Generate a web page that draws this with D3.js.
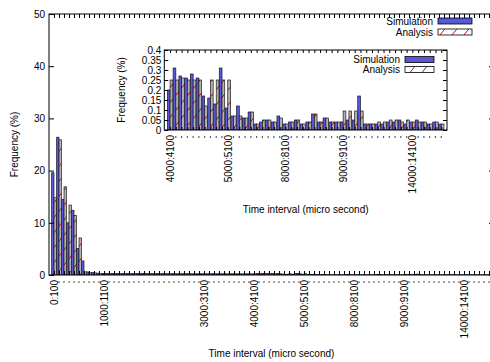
<!DOCTYPE html>
<html><head><meta charset="utf-8">
<script src="https://cdn.jsdelivr.net/npm/d3@7"></script>
<style>body{margin:0;background:#fff}svg{display:block;font-family:"Liberation Sans",Arial,sans-serif}</style>
</head><body><svg id="c" width="490" height="362"></svg>
<script>
// ---------- data ----------
const labelIndex = [0, 10, 30, 40, 50, 60, 70, 82];
const labelText = ["0:100", "1000:1100", "3000:3100", "4000:4100", "5000:5100", "8000:8100", "9000:9100", "14000:14100"];
const insetLabelIndex = [40, 50, 60, 70, 82];
const simulation = [
  19.6, 26.4, 14.5, 10.0, 12.4, 5.1, 2.7, 0.6, 0.45, 0.35,
  0.3, 0.28, 0.3, 0.27, 0.26, 0.28, 0.25, 0.27, 0.26, 0.25,
  0.24, 0.26, 0.25, 0.24, 0.25, 0.23, 0.24, 0.25, 0.22, 0.24,
  0.23, 0.22, 0.24, 0.23, 0.22, 0.21, 0.23, 0.22, 0.21, 0.22,
  0.20, 0.31, 0.27, 0.26, 0.28, 0.26, 0.17, 0.16, 0.13, 0.31,
  0.11, 0.07, 0.12, 0.06, 0.09, 0.03, 0.04, 0.05, 0.04, 0.07,
  0.03, 0.04, 0.05, 0.03, 0.04, 0.08, 0.04, 0.06, 0.04, 0.04,
  0.04, 0.05, 0.05, 0.17, 0.03, 0.03, 0.03, 0.03, 0.04, 0.04,
  0.05, 0.03, 0.04, 0.05, 0.04, 0.03, 0.04, 0.03
];
const analysis = [
  14.8, 25.9, 16.9, 13.4, 11.4, 7.1, 0.6, 0.5, 0.4, 0.3,
  0.3, 0.29, 0.29, 0.28, 0.28, 0.27, 0.27, 0.27, 0.26, 0.26,
  0.26, 0.26, 0.25, 0.25, 0.25, 0.25, 0.25, 0.25, 0.25, 0.25,
  0.25, 0.25, 0.25, 0.25, 0.25, 0.25, 0.25, 0.25, 0.25, 0.25,
  0.25, 0.25, 0.26, 0.25, 0.25, 0.25, 0.12, 0.25, 0.25, 0.25,
  0.25, 0.07, 0.07, 0.06, 0.09, 0.03, 0.05, 0.05, 0.04, 0.06,
  0.03, 0.04, 0.05, 0.03, 0.04, 0.08, 0.04, 0.06, 0.04, 0.04,
  0.095, 0.095, 0.095, 0.095, 0.03, 0.03, 0.04, 0.04, 0.05, 0.05,
  0.04, 0.05, 0.04, 0.04, 0.04, 0.03, 0.04, 0.03
];
const seriesNames = ["Simulation", "Analysis"];
const mainYTicks = [0, 10, 20, 30, 40, 50];
const insetYTicks = [0, 0.05, 0.1, 0.15, 0.2, 0.25, 0.3, 0.35, 0.4];
const insetFirst = 40;

// ---------- setup ----------
const svg = d3.select("#c");
const N = simulation.length;
const idx = d3.range(N);
const SIM_FILL = "#5858d8", SIM_STROKE = "#141438";
const defs = svg.append("defs");
const pat = defs.append("pattern").attr("id", "hatch").attr("patternUnits", "userSpaceOnUse")
  .attr("width", 12).attr("height", 15);
pat.append("rect").attr("width", 12).attr("height", 15).attr("fill", "#b2b2b2");
pat.append("line").attr("x1", 0).attr("y1", 15).attr("x2", 12).attr("y2", 0).attr("stroke", "#c00").attr("stroke-width", 1);
const patL = defs.append("pattern").attr("id", "hatchL").attr("patternUnits", "userSpaceOnUse")
  .attr("width", 12).attr("height", 15);
patL.append("rect").attr("width", 12).attr("height", 15).attr("fill", "#fff");
patL.append("line").attr("x1", 0).attr("y1", 15).attr("x2", 12).attr("y2", 0).attr("stroke", "#d00").attr("stroke-width", 1);

function panel(g, opt) {
  const x = d3.scaleLinear().domain(opt.xdom).range(opt.xr);
  const y = d3.scaleLinear().domain(opt.ydom).range(opt.yr);
  const cats = idx.filter(i => i >= opt.first);
  const hw = 0.47;
  const clipId = opt.id + "clip";
  g.append("clipPath").attr("id", clipId).append("rect")
    .attr("x", opt.xr[0]).attr("y", opt.yr[1]).attr("width", opt.xr[1] - opt.xr[0]).attr("height", opt.yr[0] - opt.yr[1]);
  if (opt.bg) g.append("rect").attr("x", opt.xr[0]).attr("y", opt.yr[1])
    .attr("width", opt.xr[1] - opt.xr[0]).attr("height", opt.yr[0] - opt.yr[1]).attr("fill", "#fff");
  const bars = g.append("g").attr("clip-path", `url(#${clipId})`);
  bars.selectAll(".s").data(cats).join("rect")
    .attr("x", i => x(i - hw)).attr("width", i => x(i) - x(i - hw))
    .attr("y", i => y(simulation[i])).attr("height", i => y(0) - y(simulation[i]))
    .attr("fill", SIM_FILL).attr("stroke", SIM_STROKE).attr("stroke-width", 0.7);
  bars.selectAll(".a").data(cats).join("rect")
    .attr("x", i => x(i)).attr("width", i => x(i + hw) - x(i))
    .attr("y", i => y(analysis[i])).attr("height", i => y(0) - y(analysis[i]))
    .attr("fill", "url(#hatch)").attr("stroke", "#1a1a1a").attr("stroke-width", 0.7);

  const tickStyle = s => s.call(a => a.select(".domain").remove())
    .call(a => a.selectAll("line").attr("stroke", "#000"))
    .call(a => a.selectAll("text").attr("font-size", 10).attr("fill", "#000").attr("font-family", null));
  g.append("g").attr("transform", `translate(${opt.xr[0]},0)`)
    .call(d3.axisLeft(y).tickValues(opt.yticks).tickSize(-opt.ytl).tickPadding(opt.ypad).tickFormat(opt.yfmt))
    .call(tickStyle);
  g.append("g").attr("transform", `translate(${opt.xr[1]},0)`)
    .call(d3.axisRight(y).tickValues(opt.yticks).tickSize(-opt.ytl).tickFormat(""))
    .call(tickStyle);
  g.append("g").attr("transform", `translate(0,${opt.yr[0]})`)
    .call(d3.axisBottom(x).tickValues(cats).tickSize(-opt.xtl).tickFormat(""))
    .call(tickStyle);
  g.append("g").attr("transform", `translate(0,${opt.yr[1]})`)
    .call(d3.axisTop(x).tickValues(cats).tickSize(-opt.xtl).tickFormat(""))
    .call(tickStyle);
  const ly = opt.yr[0] + 8;
  cats.filter(i => !opt.labels.includes(i)).forEach(i => {
    g.append("circle").attr("cx", x(i)).attr("cy", ly - 1).attr("r", 0.7).attr("fill", "#000");
  });
  opt.labels.forEach(i => {
    g.append("text").attr("transform", `translate(${x(i) + 0.5},${ly - 3}) rotate(-90)`)
      .attr("text-anchor", "end").attr("dy", "0.35em").attr("font-size", 10)
      .text(labelText[labelIndex.indexOf(i)]);
  });
  g.append("rect").attr("x", opt.xr[0]).attr("y", opt.yr[1])
    .attr("width", opt.xr[1] - opt.xr[0]).attr("height", opt.yr[0] - opt.yr[1])
    .attr("fill", "none").attr("stroke", "#000").attr("stroke-width", 1);
  g.append("text").attr("x", (opt.xr[0] + opt.xr[1]) / 2).attr("y", opt.xtitleY)
    .attr("text-anchor", "middle").attr("font-size", 10).text("Time interval (micro second)");
  g.append("text").attr("transform", `translate(${opt.ytitleX},${(opt.yr[0] + opt.yr[1]) / 2}) rotate(-90)`)
    .attr("text-anchor", "middle").attr("dy", "0.35em").attr("font-size", 10).text("Frequency (%)");
  const lg = g.append("g");
  seriesNames.forEach((nm, k) => {
    const cy = opt.legY + k * opt.legDy;
    lg.append("text").attr("x", opt.legX - 5).attr("y", cy).attr("dy", "0.35em")
      .attr("text-anchor", "end").attr("font-size", 10).text(nm);
    lg.append("rect").attr("x", opt.legX).attr("y", cy - 3).attr("width", opt.legW).attr("height", 6)
      .attr("fill", k === 0 ? SIM_FILL : "url(#hatchL)").attr("stroke", "#000").attr("stroke-width", 0.8);
  });
}

panel(svg.append("g"), {
  id: "main", xdom: [-1, 88], xr: [49, 494], ydom: [0, 50], yr: [275, 14], first: 0,
  yticks: mainYTicks, yfmt: d3.format("d"), ytl: 5, ypad: 4, xtl: 4, labels: labelIndex,
  xtitleY: 357, ytitleX: 14, legX: 438, legY: 21, legDy: 11, legW: 34
});
panel(svg.append("g"), {
  id: "inset", xdom: [39, 88], xr: [164.3, 447], ydom: [0, 0.4], yr: [130, 50], first: insetFirst, bg: true,
  yticks: insetYTicks, yfmt: d => String(+d.toFixed(2)), ytl: 4, ypad: 3, xtl: 3, labels: insetLabelIndex,
  xtitleY: 213, ytitleX: 121, legX: 405, legY: 59.5, legDy: 10, legW: 29
});
</script></body></html>
